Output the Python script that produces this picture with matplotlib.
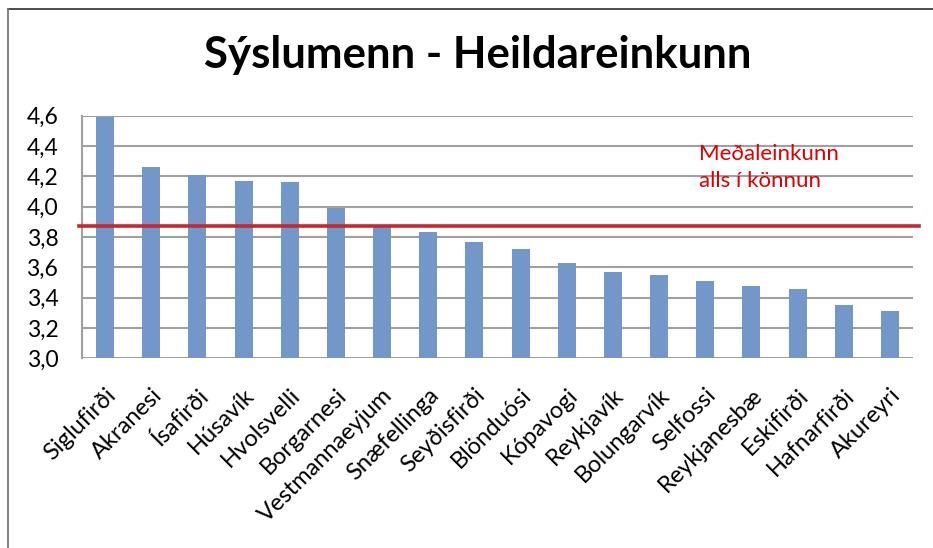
import matplotlib
matplotlib.use("Agg")
import matplotlib.pyplot as plt
from matplotlib.lines import Line2D
from matplotlib.ticker import FuncFormatter

categories = ["Siglufirði", "Akranesi", "Ísafirði", "Húsavík", "Hvolsvelli",
              "Borgarnesi", "Vestmannaeyjum", "Snæfellinga", "Seyðisfirði",
              "Blönduósi", "Kópavogi", "Reykjavík", "Bolungarvík", "Selfossi",
              "Reykjanesbæ", "Eskifirði", "Hafnarfirði", "Akureyri"]
values = [4.59, 4.26, 4.21, 4.17, 4.165, 3.99, 3.87, 3.83, 3.77,
          3.72, 3.63, 3.57, 3.55, 3.51, 3.48, 3.455, 3.35, 3.31]
average = 3.87
yticks = [3.0, 3.2, 3.4, 3.6, 3.8, 4.0, 4.2, 4.4, 4.6]
title = "Sýslumenn - Heildareinkunn"
avg_label_1 = "Meðaleinkunn"
avg_label_2 = "alls í könnun"

plt.rcParams['font.family'] = ['Lato', 'DejaVu Sans']

fig = plt.figure(figsize=(9.33, 5.48), dpi=100)
W, H = 933, 548
ax = fig.add_axes([82 / W, 1 - 358.3 / H, (913 - 82) / W, (358.3 - 115.7) / H])

x = list(range(len(categories)))
ax.bar(x, [v - 3.0 for v in values], bottom=3.0, width=0.39, color='#7397C9', zorder=3)
ax.set_xlim(-0.5, len(categories) - 0.5)
ax.set_ylim(3.0, 4.6)
ax.set_yticks(yticks)
ax.yaxis.set_major_formatter(FuncFormatter(lambda v, p: f"{v:.1f}".replace('.', ',')))
ax.grid(axis='y', color='#A0A0A0', linewidth=1.5, zorder=0)
ax.set_axisbelow(True)
for s in ['top', 'right', 'bottom']:
    ax.spines[s].set_visible(False)
ax.spines['left'].set_color('#A0A0A0')
ax.spines['left'].set_linewidth(1.5)
ax.tick_params(axis='y', length=0, labelsize=16.5, pad=17, colors='black')
ax.tick_params(axis='x', length=0, pad=19)
ax.set_xticks(x)
ax.set_xticklabels(categories, rotation=45, ha='right', va='top',
                   rotation_mode='anchor', fontsize=17)

# average line (drawn slightly beyond plot area)
ax.plot([-0.575, 17.63], [average, average], color='#C8282D', linewidth=2.6,
        zorder=4, clip_on=False)
ax.text(12.86, 4.308, avg_label_1, color='#E00000', fontsize=16, va='baseline', ha='left')
ax.text(12.86, 4.13, avg_label_2, color='#E00000', fontsize=16, va='baseline', ha='left')

fig.text(477.5 / W, 1 - 68 / H, title, ha='center', va='baseline',
         fontsize=31.5, fontweight='bold')

# outer frame (top and left)
fig.add_artist(Line2D([8 / W, 1.0], [1 - 9 / H, 1 - 9 / H], color='#404040', linewidth=1.3))
fig.add_artist(Line2D([8 / W, 8 / W], [0.0, 1 - 9 / H], color='#7a7a7a', linewidth=1.3))

fig.savefig("out.png", dpi=100)
